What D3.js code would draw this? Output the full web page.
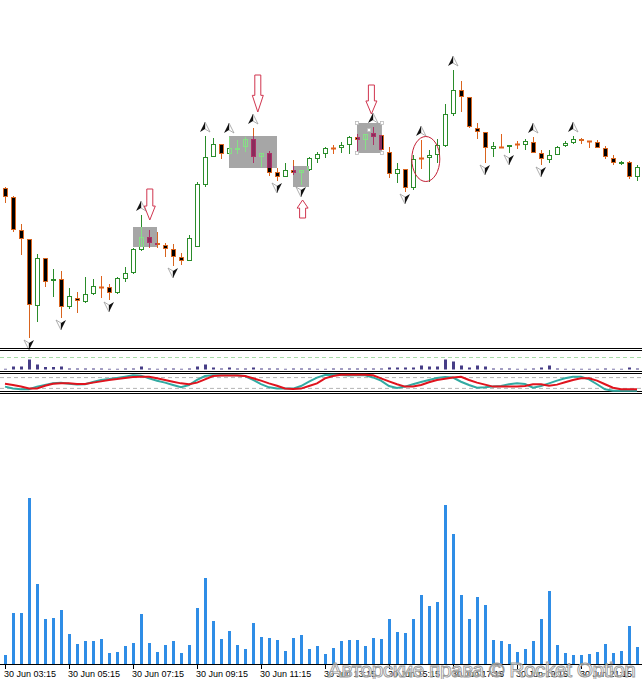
<!DOCTYPE html>
<html lang="en">
<head>
<meta charset="UTF-8">
<title>Candles</title>
<script src="https://d3js.org/d3.v7.min.js"></script>
<style>
  body { margin: 0; background: #fff; }
  svg { display: block; }
  .lbl { font-family: "Liberation Sans", Arial, sans-serif; font-size: 9px; fill: #000; }
</style>
</head>
<body>
<script>
// ---- data ----
var tickIndex = [0, 8, 16, 24, 32, 40, 48, 56, 64, 72];
var tickLabels = ["30 Jun 03:15", "30 Jun 05:15", "30 Jun 07:15", "30 Jun 09:15", "30 Jun 11:15",
  "30 Jun 13:15", "30 Jun 15:15", "30 Jun 17:15", "30 Jun 19:15", "30 Jun 21:15"];

var open  = [162,153,120,111, 44, 92, 69, 71, 43, 52, 48, 56, 63, 63, 57, 71, 77,100,113,107,
             105,101, 93, 89,103,165,193,206,196,201,203,211,193,197,178,173,180,177,180,191,
             196,202,202,205,213,210,217,215,198,176,181,162,192,192,195,204,236,260,253,222,
             218,201,203,204,206,205,208,197,190,195,204,207,211,209,208,202,192,186,188,173];
var high  = [163,154,126,111, 96, 92, 81, 79, 62, 58, 73, 71, 74, 66, 73, 83,102,135,120,118,
             107,106, 97,115,168,214,212,206,213,210,213,222,197,199,182,187,190,180,193,198,
             203,205,208,214,216,216,223,215,203,187,181,195,210,200,211,246,280,269,253,227,
             218,208,216,205,209,211,213,200,200,204,209,214,212,209,210,204,195,189,189,185];
var low   = [147,118, 95, 12, 28, 63, 53, 32, 41, 37, 47, 55, 52, 50, 56, 68, 76, 99,102,102,
              93, 84, 85, 89,103,163,193,191,195,196,198,187,183,174,169,173,175,165,179,187,
             192,196,197,196,198,200,205,200,172,167,158,160,181,168,187,203,234,238,222,211,
             187,193,202,197,201,200,197,185,187,195,203,206,206,202,202,191,185,185,171,169];
var close = [153,120,111, 45, 92, 68, 71, 43, 54, 49, 56, 64, 63, 57, 72, 77,101,113,107,105,
             101, 93, 89,112,166,193,206,196,202,202,211,193,197,177,173,180,177,180,192,196,
             202,202,205,213,210,216,213,200,176,181,162,191,192,195,205,236,260,253,223,218,
             202,204,203,205,206,209,197,191,195,203,207,211,209,209,202,193,187,188,173,183];

var volume = [  9, 51, 51,166, 80, 45, 46, 54, 30, 20, 23, 23, 25, 11, 12, 18, 21, 50, 21, 12,
               19, 23, 11, 19, 56, 86, 43, 25, 33, 19, 15, 41, 27, 26, 24, 13, 26, 29, 15, 18,
               10, 16, 23, 24, 24, 18, 26, 25, 45, 32, 31, 45, 69, 58, 62,159,130, 69, 45, 67,
               59, 24, 23, 20, 12, 15, 23, 45, 73, 19, 11,  9,  9, 10, 12, 20, 11, 13, 38, 17];

var histValues = [0.7,3,3,10,5,2.5,2.5,3,1,1, 1,1,1,0.7,0.7,1,1,3,1,0.7,
                  1,1,0.7,1,3,5,2,1,2,1, 1,2,1,1,1,0.7,1,1,1,0.7,
                  0.7,1,1,1,1,1,1,1,2,2, 2,2,4,3,3,10,8,4,2,4,
                  3,1,1,1,0.7,0.7,1,2,4,1, 0.7,0.7,0.7,0.7,0.7,1,0.7,0.7,2,1];
var histLevel = 12;

var stochMain = [30,19,15,15,30,39,48,52,46,41, 43,56,67,72,78,85,93,91,76,63,
                 52,39,26,39,67,89,93,93,93,93, 89,67,44,26,19,19,19,33,57,80,
                 94,96,94,91,94,93,81,63,33,22, 30,43,56,67,78,83,80,57,39,24,
                 26,30,33,43,48,44,24,33,48,63, 76,85,85,70,43,15,7,7,7,7];
var stochSignal = [46,39,30,20,20,35,46,48,48,44, 44,52,59,67,72,78,83,85,85,76,
                   67,57,48,43,52,70,89,91,91,91, 89,76,63,48,35,20,17,19,33,48,
                   76,89,96,96,96,96,93,76,59,43, 30,30,39,54,67,74,81,85,67,52,
                   41,30,30,30,30,33,43,43,35,41, 54,67,76,76,63,43,24,15,15,15];
var stochLevels = [20, 80];

var fractalUp = [17, 25, 28, 31, 46, 52, 56, 66, 71];
var fractalDown = [3, 7, 13, 21, 34, 37, 50, 60, 63, 67];

// pattern boxes: candle index span and price span
var boxes = [
  {i0: 16, i1: 19, top: 123, bottom: 103},
  {i0: 28, i1: 34, top: 214, bottom: 182},
  {i0: 36, i1: 38, top: 184, bottom: 163},
  {i0: 44, i1: 47.1, top: 227, bottom: 197}
];
// hollow arrows: base price -> tip price
var signalArrows = [
  {i: 18.1, base: 161, tip: 130},
  {i: 31.6, base: 275, tip: 238},
  {i: 45.8, base: 265, tip: 236},
  {i: 37.2, base: 132, tip: 150}
];
var markEllipse = {i: 52.6, price: 191, rx: 14, ry: 22.5};

window.onload = function () {
  var W = 642, H = 679;
  var svg = d3.select('body').append('svg').attr('width', W).attr('height', H);

  var x = d3.scaleLinear().domain([0, 79]).range([5, 637]);
  var y = d3.scaleLinear().domain([0, 350]).range([350, 0]);
  var yVol = d3.scaleLinear().domain([0, 270]).range([664, 394]);
  var yHist = d3.scaleLinear().domain([0, histLevel]).range([369.5, 357.5]);
  var ySto = d3.scaleLinear().domain([0, 100]).range([392, 374]);
  var idx = d3.range(open.length);

  var normal = {bull: '#2a8c2a', bullFill: '#fff', bear: '#d8641e', bearFill: '#000', doji: '#e0601a'};
  var marked = {bull: '#86e086', bullFill: 'none', bear: '#ad3266', bearFill: '#8a2c5c', doji: '#ad3266'};

  function candles(g, pal) {
    var c = g.selectAll('g').data(idx).enter().append('g');
    c.append('line')
      .attr('x1', function (i) { return Math.round(x(i)) + 0.5; })
      .attr('x2', function (i) { return Math.round(x(i)) + 0.5; })
      .attr('y1', function (i) { return Math.round(y(high[i])); })
      .attr('y2', function (i) { return Math.round(y(low[i])); })
      .attr('stroke', function (i) {
        return close[i] > open[i] ? pal.bull : (close[i] < open[i] ? pal.bear : pal.doji);
      });
    c.filter(function (i) { return close[i] !== open[i]; }).append('rect')
      .attr('x', function (i) { return Math.round(x(i)) - 1.5; })
      .attr('width', 4)
      .attr('y', function (i) { return Math.round(y(Math.max(open[i], close[i]))) + 0.5; })
      .attr('height', function (i) {
        return Math.max(1, Math.round(y(Math.min(open[i], close[i]))) - Math.round(y(Math.max(open[i], close[i]))) - 1);
      })
      .attr('fill', function (i) { return close[i] > open[i] ? pal.bullFill : pal.bearFill; })
      .attr('stroke', function (i) { return close[i] > open[i] ? pal.bull : pal.bear; });
    c.filter(function (i) { return close[i] === open[i]; }).append('line')
      .attr('x1', function (i) { return Math.round(x(i)) - 2; })
      .attr('x2', function (i) { return Math.round(x(i)) + 3; })
      .attr('y1', function (i) { return Math.round(y(open[i])) + 0.5; })
      .attr('y2', function (i) { return Math.round(y(open[i])) + 0.5; })
      .attr('stroke', pal.doji).attr('stroke-width', 2);
  }

  //----main chart----
  svg.append('g').selectAll('rect').data(boxes).enter().append('rect')
    .attr('x', function (b) { return x(b.i0); })
    .attr('y', function (b) { return y(b.top); })
    .attr('width', function (b) { return x(b.i1) - x(b.i0); })
    .attr('height', function (b) { return y(b.bottom) - y(b.top); })
    .attr('fill', '#a6a6a6');

  candles(svg.append('g'), normal);

  var clip = svg.append('clipPath').attr('id', 'boxclip');
  clip.selectAll('rect').data(boxes).enter().append('rect')
    .attr('x', function (b) { return x(b.i0); })
    .attr('y', function (b) { return y(b.top); })
    .attr('width', function (b) { return x(b.i1) - x(b.i0); })
    .attr('height', function (b) { return y(b.bottom) - y(b.top); });
  var boxFill = svg.append('g').attr('clip-path', 'url(#boxclip)');
  boxFill.selectAll('rect').data(boxes).enter().append('rect')
    .attr('x', function (b) { return x(b.i0); })
    .attr('y', function (b) { return y(b.top); })
    .attr('width', function (b) { return x(b.i1) - x(b.i0); })
    .attr('height', function (b) { return y(b.bottom) - y(b.top); })
    .attr('fill', '#a6a6a6');
  candles(boxFill.append('g'), marked);

  // selection handles on last box
  var sb = boxes[3];
  var handles = [[sb.i0, sb.top], [sb.i1, sb.top], [sb.i0, sb.bottom], [sb.i1, sb.bottom], [(sb.i0 + sb.i1) / 2, (sb.top + sb.bottom) / 2 + 8]];
  svg.append('g').selectAll('rect').data(handles).enter().append('rect')
    .attr('x', function (d) { return Math.round(x(d[0])) - 1.5; })
    .attr('y', function (d) { return Math.round(y(d[1])) - 1.5; })
    .attr('width', 3).attr('height', 3)
    .attr('fill', '#fff').attr('stroke', '#bbb').attr('stroke-width', 0.8);

  // fractal markers
  var arrowL = 'M0,-5L-5,5L0,2Z', arrowR = 'M0,-5L5,5L0,2Z';
  function fractal(list, above) {
    var g = svg.append('g').selectAll('g').data(list).enter().append('g')
      .attr('transform', function (i) {
        return above ? 'translate(' + x(i) + ',' + (y(high[i]) - 9) + ')'
                     : 'translate(' + x(i) + ',' + (y(low[i]) + 7) + ') rotate(180)';
      });
    g.append('path').attr('d', arrowR).attr('fill', '#fff').attr('stroke', '#999').attr('stroke-width', 0.8);
    g.append('path').attr('d', arrowL).attr('fill', '#111');
  }
  fractal(fractalUp, true);
  fractal(fractalDown, false);

  // hollow signal arrows
  svg.append('g').selectAll('path').data(signalArrows).enter().append('path')
    .attr('d', function (a) {
      var cx = x(a.i), y0 = y(a.base), y1 = y(a.tip), len = y1 - y0;
      var neck = y0 + len * 0.55;
      return 'M' + (cx - 3) + ',' + y0 + 'L' + (cx + 3) + ',' + y0 + 'L' + (cx + 3) + ',' + neck +
        'L' + (cx + 5.5) + ',' + neck + 'L' + cx + ',' + y1 + 'L' + (cx - 5.5) + ',' + neck +
        'L' + (cx - 3) + ',' + neck + 'Z';
    })
    .attr('fill', '#fff').attr('stroke', '#d0354f').attr('stroke-width', 1);

  svg.append('ellipse')
    .attr('cx', x(markEllipse.i)).attr('cy', y(markEllipse.price))
    .attr('rx', markEllipse.rx).attr('ry', markEllipse.ry)
    .attr('fill', 'none').attr('stroke', '#c42036').attr('stroke-width', 1);

  //----separators----
  [348.5, 350.5, 371.5, 373.5, 391.5, 393.5].forEach(function (ly) {
    svg.append('line').attr('x1', 0).attr('x2', W).attr('y1', ly).attr('y2', ly)
      .attr('stroke', '#000').attr('stroke-width', 1.2);
  });

  //----histogram panel----
  svg.append('line').attr('x1', 0).attr('x2', W)
    .attr('y1', yHist(histLevel)).attr('y2', yHist(histLevel))
    .attr('stroke', '#a8dca8').attr('stroke-dasharray', '4,3');
  svg.append('g').selectAll('rect').data(idx).enter().append('rect')
    .attr('x', function (i) { return Math.round(x(i)) - 1; })
    .attr('width', 3)
    .attr('y', function (i) { return yHist(histValues[i]); })
    .attr('height', function (i) { return yHist(0) - yHist(histValues[i]); })
    .attr('fill', '#463d86');

  //----stochastic panel----
  stochLevels.forEach(function (v) {
    svg.append('line').attr('x1', 0).attr('x2', W)
      .attr('y1', ySto(v)).attr('y2', ySto(v))
      .attr('stroke', '#b4b4b4').attr('stroke-dasharray', '4,3');
  });
  var stoLine = function (arr) {
    return d3.line().x(function (i) { return x(i); }).y(function (i) { return ySto(arr[i]); })(idx);
  };
  svg.append('path').attr('d', stoLine(stochMain)).attr('fill', 'none')
    .attr('stroke', '#32aaa2').attr('stroke-width', 2);
  svg.append('path').attr('d', stoLine(stochSignal)).attr('fill', 'none')
    .attr('stroke', '#e0141e').attr('stroke-width', 2);

  //----volume panel----
  svg.append('g').selectAll('rect').data(idx).enter().append('rect')
    .attr('x', function (i) { return Math.round(x(i)) - 1; })
    .attr('width', 3)
    .attr('y', function (i) { return Math.round(yVol(volume[i])); })
    .attr('height', function (i) { return yVol(0) - Math.round(yVol(volume[i])); })
    .attr('fill', '#2f8de6');

  //----time axis----
  svg.append('line').attr('x1', 0).attr('x2', W).attr('y1', 664.5).attr('y2', 664.5)
    .attr('stroke', '#000');
  var ticks = svg.append('g').selectAll('g').data(tickIndex).enter().append('g');
  ticks.append('line')
    .attr('x1', function (i) { return Math.round(x(i)) + 0.5; })
    .attr('x2', function (i) { return Math.round(x(i)) + 0.5; })
    .attr('y1', 665).attr('y2', 669).attr('stroke', '#000');
  ticks.append('text').attr('class', 'lbl')
    .attr('x', function (i) { return x(i) - 1; })
    .attr('y', 677)
    .text(function (i, k) { return tickLabels[k]; });

  //----watermark----
  svg.append('text')
    .attr('x', 328).attr('y', 677)
    .attr('textLength', 308)
    .attr('font-family', '"Liberation Sans", Arial, sans-serif')
    .attr('font-size', 21)
    .attr('fill', 'rgba(255,255,255,0.55)')
    .attr('stroke', '#9a9a9a').attr('stroke-width', 0.9)
    .text('Авторские права © Rocket Option');
};
</script>
</body>
</html>
